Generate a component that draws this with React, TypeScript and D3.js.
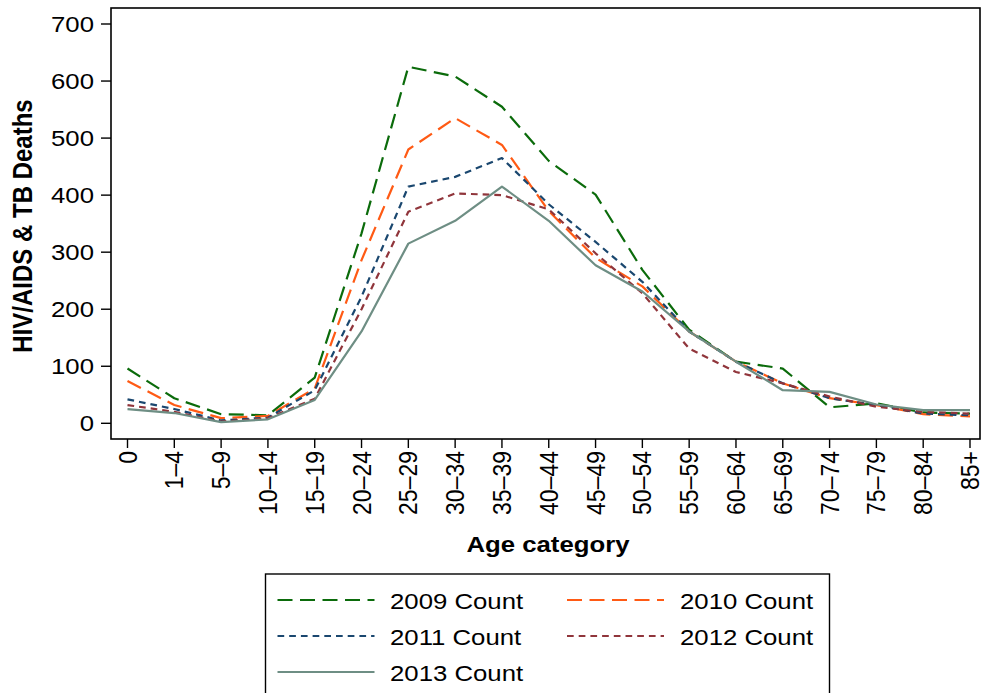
import React from "react";
import * as d3 from "d3";

const categories = ["0","1–4","5–9","10–14","15–19","20–24","25–29","30–34","35–39","40–44","45–49","50–54","55–59","60–64","65–69","70–74","75–79","80–84","85+"];
const y2009 = [96, 44, 16, 14, 80, 333, 625, 608, 555, 460, 401, 269, 164, 108, 96, 28, 35, 19, 17];
const y2010 = [74, 32, 9, 13, 61, 286, 480, 535, 488, 372, 290, 240, 161, 108, 70, 44, 32, 16, 12];
const y2011 = [42, 25, 5, 10, 58, 222, 415, 432, 465, 384, 318, 248, 161, 108, 70, 44, 32, 17, 14];
const y2012 = [32, 20, 3, 9, 43, 200, 371, 403, 400, 375, 298, 228, 131, 90, 70, 47, 29, 20, 17];
const y2013 = [25, 18, 2, 7, 41, 161, 315, 355, 415, 355, 277, 231, 161, 108, 58, 55, 33, 23, 23];
const yTicks = [0, 100, 200, 300, 400, 500, 600, 700];
const seriesNames = ["2009 Count", "2010 Count", "2011 Count", "2012 Count", "2013 Count"];

const series = [
  { name: seriesNames[0], values: y2009, color: "#0b6b0b", dash: "15 7.5" },
  { name: seriesNames[1], values: y2010, color: "#ff5a14", dash: "15 7.5" },
  { name: seriesNames[2], values: y2011, color: "#1a476f", dash: "6.7 5" },
  { name: seriesNames[3], values: y2012, color: "#90353b", dash: "6.7 5" },
  { name: seriesNames[4], values: y2013, color: "#6e8e84", dash: "none" },
];

const SX = 1.12;
const FONT = "'Liberation Sans', Arial, Helvetica, sans-serif";

export default function App() {
  const frame = { left: 111, top: 8, right: 980, bottom: 439 };
  const x = d3.scalePoint<string>().domain(categories).range([127.5, 970]);
  const y = d3.scaleLinear().domain([0, 700]).range([423.3, 24]);
  const line = d3
    .line<number>()
    .x((_, i) => x(categories[i]) as number)
    .y((d) => y(d));

  const legendItems = [
    { s: series[0], lx: 277.5, tx: 390, ly: 600 },
    { s: series[1], lx: 567, tx: 680, ly: 600 },
    { s: series[2], lx: 277.5, tx: 390, ly: 636 },
    { s: series[3], lx: 567, tx: 680, ly: 636 },
    { s: series[4], lx: 277.5, tx: 390, ly: 672 },
  ];

  return (
    <svg
      width={982}
      height={693}
      style={{ position: "absolute", left: 0, top: 0, background: "#fff" }}
      fontFamily={FONT}
    >
      <rect x={0} y={0} width={982} height={693} fill="#fff" />
      {/* series */}
      <g clipPath="url(#clip)">
        {series.map((s) => (
          <path
            key={s.name}
            d={line(s.values) as string}
            fill="none"
            stroke={s.color}
            strokeWidth={2.2}
            strokeDasharray={s.dash}
            strokeLinejoin="round"
          />
        ))}
      </g>
      <defs>
        <clipPath id="clip">
          <rect x={frame.left} y={frame.top} width={frame.right - frame.left} height={frame.bottom - frame.top} />
        </clipPath>
      </defs>
      {/* frame */}
      <rect
        x={frame.left}
        y={frame.top}
        width={frame.right - frame.left}
        height={frame.bottom - frame.top}
        fill="none"
        stroke="#000"
        strokeWidth={1.6}
      />
      {/* y ticks */}
      {yTicks.map((t) => (
        <g key={t}>
          <line x1={frame.left - 10} x2={frame.left} y1={y(t)} y2={y(t)} stroke="#000" strokeWidth={1.4} />
          <text
            transform={`translate(94,${y(t)}) scale(${SX},1)`}
            textAnchor="end"
            dy="0.35em"
            fontSize={23}
            fill="#000"
          >
            {t}
          </text>
        </g>
      ))}
      {/* x ticks */}
      {categories.map((c) => (
        <g key={c}>
          <line x1={x(c)} x2={x(c)} y1={frame.bottom} y2={frame.bottom + 9} stroke="#000" strokeWidth={1.4} />
          <text
            transform={`translate(${x(c)},451) scale(${SX},1) rotate(-90)`}
            textAnchor="end"
            dy="0.35em"
            fontSize={23}
            fill="#000"
          >
            {c}
          </text>
        </g>
      ))}
      {/* axis titles */}
      <text
        transform={`translate(548,552) scale(${SX},1)`}
        textAnchor="middle"
        fontSize={23}
        fontWeight="bold"
        fill="#000"
      >
        Age category
      </text>
      <text
        transform={`translate(32,226) scale(${SX},1) rotate(-90)`}
        textAnchor="middle"
        fontSize={24}
        fontWeight="bold"
        fill="#000"
      >
        HIV/AIDS &amp; TB Deaths
      </text>
      {/* legend */}
      <rect x={265.5} y={574} width={564} height={140} fill="#fff" stroke="#000" strokeWidth={1.4} />
      {legendItems.map(({ s, lx, tx, ly }) => (
        <g key={s.name}>
          <line x1={lx} x2={lx + 97} y1={ly} y2={ly} stroke={s.color} strokeWidth={2.2} strokeDasharray={s.dash} />
          <text transform={`translate(${tx},${ly + 9}) scale(${SX},1)`} fontSize={23} fill="#000">
            {s.name}
          </text>
        </g>
      ))}
    </svg>
  );
}
